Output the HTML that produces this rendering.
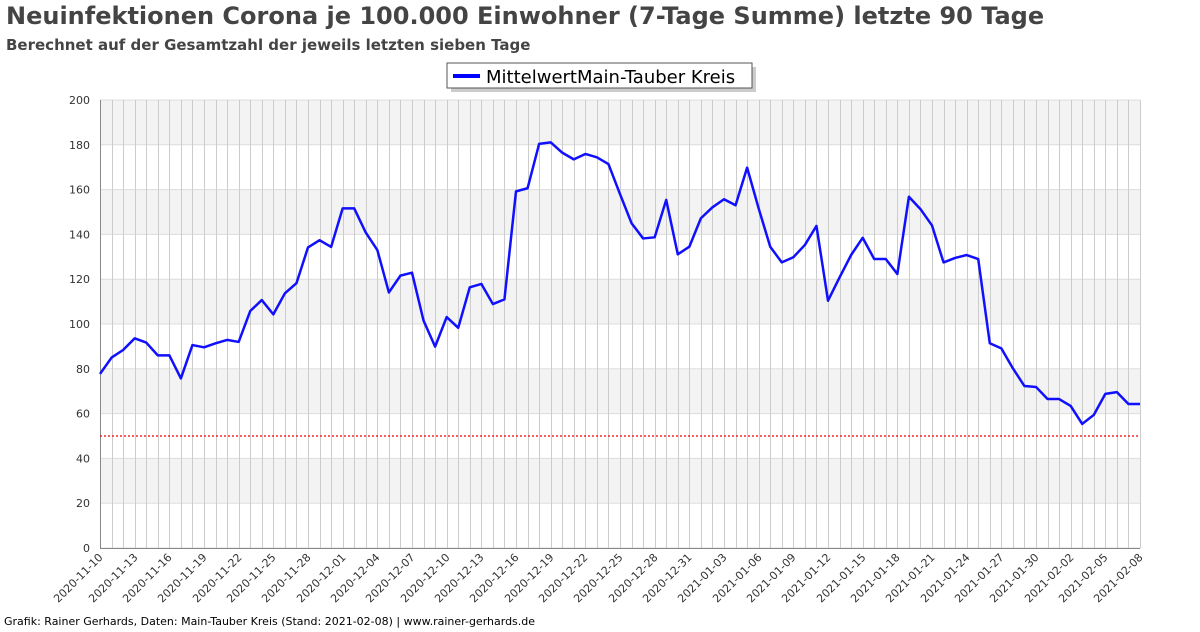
<!DOCTYPE html>
<html><head><meta charset="utf-8"><style>
body{margin:0;background:#fff;width:1200px;height:628px;overflow:hidden;font-family:"DejaVu Sans","Liberation Sans",sans-serif}
</style></head><body>
<svg width="1200" height="628" id="chart" xmlns="http://www.w3.org/2000/svg" font-family="DejaVu Sans, Liberation Sans, sans-serif">
<text x="6" y="24" font-size="24" font-weight="bold" fill="#444">Neuinfektionen Corona je 100.000 Einwohner (7-Tage Summe) letzte 90 Tage</text>
<text x="6" y="50" font-size="15" font-weight="bold" fill="#444">Berechnet auf der Gesamtzahl der jeweils letzten sieben Tage</text>
<g>
<rect x="451" y="67" width="305" height="25" fill="#ccc"/>
<rect x="447" y="63" width="305" height="25" fill="#fff" stroke="#555" stroke-width="1"/>
<line x1="453" y1="76" x2="480" y2="76" stroke="#00f" stroke-width="4"/>
<text x="486" y="83" font-size="18" fill="#000">MittelwertMain-Tauber Kreis</text>
</g>
<g id="bands"></g><g id="grid"></g><g id="axes"></g><g id="series"></g>
<text x="4" y="625" font-size="11" fill="#000">Grafik: Rainer Gerhards, Daten: Main-Tauber Kreis (Stand: 2021-02-08) | www.rainer-gerhards.de</text>
</svg>
<script>
const values=[77.7,85,88.4,93.6,91.7,86,86,75.7,90.6,89.6,91.4,92.9,92,105.8,110.7,104.3,113.7,118.2,134.2,137.4,134.4,151.6,151.6,140.8,133,114.1,121.6,122.9,101.5,89.9,103.1,98.3,116.4,117.9,108.9,111,159.2,160.6,180.4,181.1,176.5,173.5,175.9,174.4,171.4,158,145,138.2,138.7,155.4,131.1,134.5,147.2,152.1,155.7,153,169.8,151.6,134.5,127.5,129.8,135.3,143.8,110.4,120.8,130.8,138.5,129,129,122.3,156.8,151.3,144,127.5,129.5,130.8,129,91.4,89.1,80.2,72.3,71.9,66.5,66.5,63.4,55.4,59.4,68.8,69.6,64.3,64.3];
const startDate="2020-11-10";
const yTicks=[0,20,40,60,80,100,120,140,160,180,200];
const threshold=[50];
const NS="http://www.w3.org/2000/svg";
const X0=100,X1=1140,Y0=548,Y1=100,yMax=200;
const n=values.length;
const xs=i=>X0+(X1-X0)*i/(n-1);
const ys=v=>Y0-(Y0-Y1)*v/yMax;
function mk(t,a,p){const e=document.createElementNS(NS,t);for(const k in a)e.setAttribute(k,a[k]);p.appendChild(e);return e;}
const bands=document.getElementById('bands'),grid=document.getElementById('grid'),axes=document.getElementById('axes'),series=document.getElementById('series');
for(let k=0;k<yTicks.length-1;k++){
 if(k%2===1){const b=mk('rect',{x:X0,y:ys(yTicks[k+1]),width:X1-X0,height:ys(yTicks[k])-ys(yTicks[k+1]),fill:'#f3f3f3'},bands);
 
 }
}
yTicks.forEach(t=>{
 const l=mk('line',{x1:X0,x2:X1,y1:ys(t),y2:ys(t),stroke:'#ddd','stroke-width':1},grid);
 
 
 const tx=mk('text',{x:X0-10,y:ys(t)+4,'font-size':11,'text-anchor':'end',fill:'#333'},axes);
 
 
 tx.textContent=t;
});
const d0=new Date(startDate+"T00:00:00Z");
for(let i=0;i<n;i++){
 const x=Math.round(xs(i))+0.5;
 const l=mk('line',{x1:x,x2:x,y1:Y1,y2:Y0,stroke:'#ccc','stroke-width':1},grid);
 
 
 if(i%3===0){
  const d=new Date(d0.getTime()+i*86400000);
  const s=d.toISOString().slice(0,10);
  const tx=mk('text',{x:x+3,y:Y0+10,'font-size':11,'text-anchor':'end',fill:'#333',transform:`rotate(-45 ${x+3} ${Y0+10})`},axes);
  
  
  tx.textContent=s;
 }
}
const ax=mk('path',{d:`M${X0+0.5},${Y1} V${Y0+0.5} H${X1}`,fill:'none',stroke:'#888','stroke-width':1},axes);


const th=mk('line',{x1:X0,x2:X1,y1:ys(threshold[0]),y2:ys(threshold[0]),stroke:'#e00','stroke-width':1.3,'stroke-dasharray':'2,2'},series);


const p=mk('polyline',{points:values.map((v,i)=>xs(i)+','+ys(v)).join(' '),fill:'none',stroke:'#1010ff','stroke-width':2.5,'stroke-linejoin':'round'},series);


</script>
</body></html>
